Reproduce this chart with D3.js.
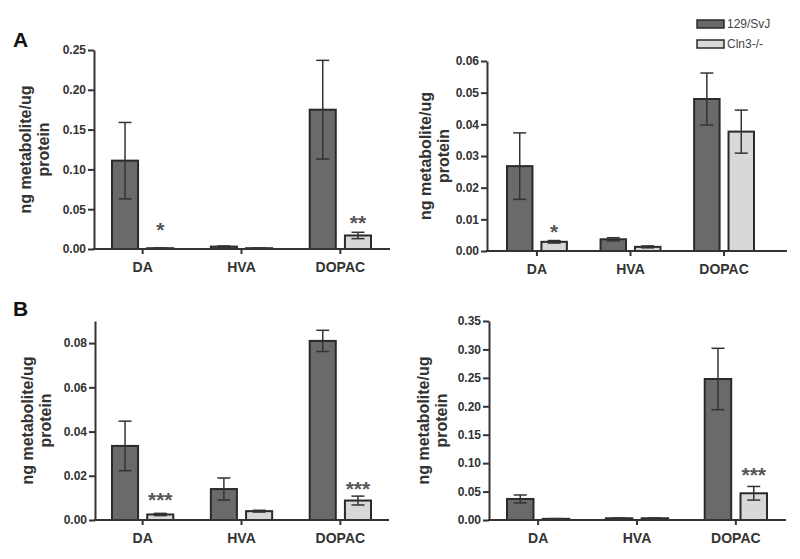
<!DOCTYPE html>
<html>
<head>
<meta charset="utf-8">
<script src="https://cdn.jsdelivr.net/npm/d3@7"></script>
<style>
    body { margin: 0; background: #fff; }
    text { font-family: Arial, "Liberation Sans", sans-serif; }
</style>
</head>
<body>
<div id="chart"></div>
<script>
const width = 800;
const height = 559;

const categories = ["DA", "HVA", "DOPAC"];
const groups = ["129/SvJ", "Cln3-/-"];

// panel A, left
const aLeftWT = [0.111, 0.003, 0.175];
const aLeftWTErr = [0.048, 0.0008, 0.062];
const aLeftKO = [0.001, 0.001, 0.017];
const aLeftKOErr = [0.0002, 0.0002, 0.004];
const aLeftStars = ["*", "", "**"];
const aLeftStarAt = [0.030, 0, 0.039];
const aLeftTicks = [0, 0.05, 0.10, 0.15, 0.20, 0.25];

// panel A, right
const aRightWT = [0.0268, 0.0037, 0.0480];
const aRightWTErr = [0.0105, 0.0005, 0.0082];
const aRightKO = [0.0029, 0.0013, 0.0377];
const aRightKOErr = [0.0004, 0.0003, 0.0068];
const aRightStars = ["*", "", ""];
const aRightStarAt = [0.0076, 0, 0];
const aRightTicks = [0, 0.01, 0.02, 0.03, 0.04, 0.05, 0.06];

// panel B, left
const bLeftWT = [0.0335, 0.0140, 0.0810];
const bLeftWTErr = [0.0112, 0.0050, 0.0048];
const bLeftKO = [0.0025, 0.0040, 0.0088];
const bLeftKOErr = [0.0005, 0.0004, 0.0020];
const bLeftStars = ["***", "", "***"];
const bLeftStarAt = [0.0113, 0, 0.0163];
const bLeftTicks = [0, 0.02, 0.04, 0.06, 0.08];

// panel B, right
const bRightWT = [0.037, 0.003, 0.248];
const bRightWTErr = [0.007, 0.0005, 0.054];
const bRightKO = [0.002, 0.003, 0.047];
const bRightKOErr = [0.0005, 0.0005, 0.012];
const bRightStars = ["", "", "***"];
const bRightStarAt = [0, 0, 0.088];
const bRightTicks = [0, 0.05, 0.10, 0.15, 0.20, 0.25, 0.30, 0.35];

const colors = { "129/SvJ": "#6a6a6a", "Cln3-/-": "#d8d8d8" };
const ink = "#333";

const svg = d3.select("#chart")
    .append("svg")
    .attr("width", width)
    .attr("height", height);

const panels = [
    { wt: aLeftWT, wtErr: aLeftWTErr, ko: aLeftKO, koErr: aLeftKOErr, stars: aLeftStars, starAt: aLeftStarAt,
      ticks: aLeftTicks, max: 0.25, axisX: 94, xEnd: 390, top: 50, bottom: 249, bars: [112, 371], pad: 0.38, labelX: 25 },
    { wt: aRightWT, wtErr: aRightWTErr, ko: aRightKO, koErr: aRightKOErr, stars: aRightStars, starAt: aRightStarAt,
      ticks: aRightTicks, max: 0.06, axisX: 487, xEnd: 787, top: 61, bottom: 251, bars: [507, 754], pad: 0.36, labelX: 425 },
    { wt: bLeftWT, wtErr: bLeftWTErr, ko: bLeftKO, koErr: bLeftKOErr, stars: bLeftStars, starAt: bLeftStarAt,
      ticks: bLeftTicks, max: 0.09, axisX: 95, xEnd: 389, top: 321, bottom: 520, bars: [112, 371], pad: 0.38, labelX: 27 },
    { wt: bRightWT, wtErr: bRightWTErr, ko: bRightKO, koErr: bRightKOErr, stars: bRightStars, starAt: bRightStarAt,
      ticks: bRightTicks, max: 0.35, axisX: 489, xEnd: 786, top: 321, bottom: 520, bars: [507, 767], pad: 0.37, labelX: 423 }
];

panels.forEach(drawPanel);

function drawPanel(p) {
    const g = svg.append("g");

    const y = d3.scaleLinear()
        .domain([0, p.max])
        .range([p.bottom, p.top]);

    const x0 = d3.scaleBand()
        .domain(categories)
        .range(p.bars)
        .paddingInner(p.pad)
        .paddingOuter(0);

    const x1 = d3.scaleBand()
        .domain(groups)
        .range([0, x0.bandwidth()])
        .paddingInner(0.26);

    const rows = [];
    categories.forEach((c, i) => {
        rows.push({ cat: c, grp: groups[0], v: p.wt[i], e: p.wtErr[i] });
        rows.push({ cat: c, grp: groups[1], v: p.ko[i], e: p.koErr[i] });
    });

    // bars
    g.selectAll(".bar")
        .data(rows)
        .enter()
        .append("rect")
        .attr("class", "bar")
        .attr("x", d => x0(d.cat) + x1(d.grp))
        .attr("y", d => y(d.v))
        .attr("width", x1.bandwidth())
        .attr("height", d => y(0) - y(d.v))
        .style("fill", d => colors[d.grp])
        .style("stroke", "#2a2a2a")
        .style("stroke-width", 2);

    // error bars
    const cap = 6.5;
    const err = g.selectAll(".err")
        .data(rows.filter(d => d.e > 0))
        .enter()
        .append("g")
        .attr("class", "err")
        .attr("transform", d => "translate(" + (x0(d.cat) + x1(d.grp) + x1.bandwidth() / 2) + ",0)")
        .style("stroke", ink)
        .style("stroke-width", 1.5);

    err.append("line")
        .attr("y1", d => y(d.v + d.e))
        .attr("y2", d => y(Math.max(0, d.v - d.e)));
    err.append("line")
        .attr("x1", -cap).attr("x2", cap)
        .attr("y1", d => y(d.v + d.e)).attr("y2", d => y(d.v + d.e));
    err.append("line")
        .attr("x1", -cap).attr("x2", cap)
        .attr("y1", d => y(Math.max(0, d.v - d.e))).attr("y2", d => y(Math.max(0, d.v - d.e)));

    // significance stars over the Cln3-/- bars
    g.selectAll(".star")
        .data(categories.map((c, i) => ({ cat: c, s: p.stars[i], at: p.starAt[i] })).filter(d => d.s))
        .enter()
        .append("text")
        .attr("class", "star")
        .attr("x", d => x0(d.cat) + x1(groups[1]) + x1.bandwidth() / 2)
        .attr("y", d => y(d.at) + 12)
        .attr("text-anchor", "middle")
        .style("font-size", "21px")
        .style("font-weight", "bold")
        .style("fill", "#555")
        .text(d => d.s);

    // y axis
    const yAxis = g.append("g")
        .attr("transform", "translate(" + p.axisX + ",0)")
        .call(d3.axisLeft(y)
            .tickValues(p.ticks)
            .tickFormat(d3.format(".2f"))
            .tickSize(6)
            .tickSizeOuter(0)
            .tickPadding(2));
    yAxis.select(".domain").style("stroke", ink).style("stroke-width", 2);
    yAxis.selectAll(".tick line").style("stroke", ink).style("stroke-width", 2);
    yAxis.selectAll(".tick text")
        .style("font-size", "12px")
        .style("font-weight", "bold")
        .style("fill", ink)
        .style("font-family", "Arial, 'Liberation Sans', sans-serif");

    // x axis
    g.append("line")
        .attr("x1", p.axisX - 1)
        .attr("x2", p.xEnd)
        .attr("y1", y(0))
        .attr("y2", y(0))
        .style("stroke", ink)
        .style("stroke-width", 2);

    const cx = c => x0(c) + x0.bandwidth() / 2;
    g.selectAll(".xtick")
        .data(categories)
        .enter()
        .append("line")
        .attr("x1", cx).attr("x2", cx)
        .attr("y1", y(0)).attr("y2", y(0) + 5)
        .style("stroke", ink)
        .style("stroke-width", 2);

    g.selectAll(".xlabel")
        .data(categories)
        .enter()
        .append("text")
        .attr("x", cx)
        .attr("y", y(0) + 23)
        .attr("text-anchor", "middle")
        .style("font-size", "14px")
        .style("font-weight", "bold")
        .style("fill", ink)
        .text(d => d);

    // y label, two lines
    const midY = (p.top + p.bottom) / 2;
    const lab = g.append("text")
        .attr("transform", "translate(" + p.labelX + "," + midY + ") rotate(-90)")
        .attr("text-anchor", "middle")
        .style("font-size", "16px")
        .style("font-weight", "bold")
        .style("fill", ink);
    lab.append("tspan").attr("x", 0).attr("dy", "0.35em").text("ng metabolite/ug");
    lab.append("tspan").attr("x", 0).attr("dy", "18").text("protein");
}

// panel letters
svg.append("text").attr("x", 13).attr("y", 47)
    .style("font-size", "21px").style("font-weight", "bold").style("fill", "#111").text("A");
svg.append("text").attr("x", 13).attr("y", 316)
    .style("font-size", "21px").style("font-weight", "bold").style("fill", "#111").text("B");

// legend
const legend = svg.append("g")
    .attr("transform", "translate(697,20)");
const li = legend.selectAll(".leg")
    .data(groups)
    .enter()
    .append("g")
    .attr("transform", (d, i) => "translate(0," + i * 20 + ")");
li.append("rect")
    .attr("width", 27)
    .attr("height", 8)
    .style("fill", d => colors[d])
    .style("stroke", "#2a2a2a")
    .style("stroke-width", 1.5);
li.append("text")
    .attr("x", 30)
    .attr("y", 8)
    .style("font-size", "12px")
    .style("fill", "#444")
    .text(d => d);
</script>
</body>
</html>
